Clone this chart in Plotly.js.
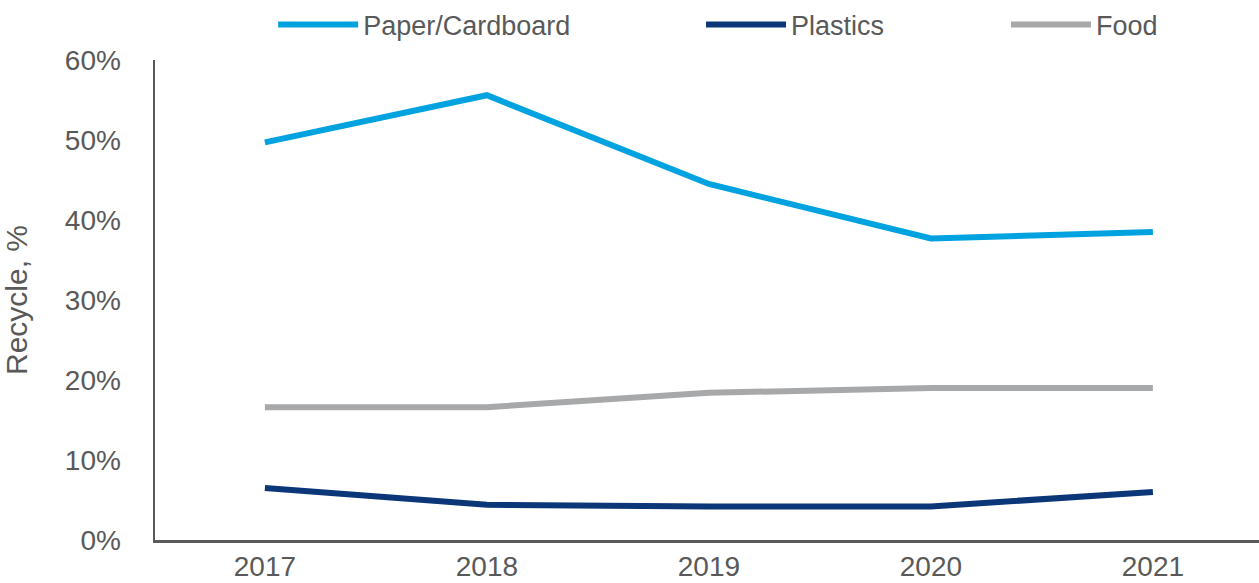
<!DOCTYPE html>
<html><head><meta charset="utf-8">
<script src="https://cdn.plot.ly/plotly-3.0.1.min.js"></script>
<style>html,body{margin:0;padding:0;background:#fff}</style>
</head><body>
<div id="chart" style="width:1259px;height:583px"></div>
<script>
const years = ["2017", "2018", "2019", "2020", "2021"];
const paperCardboard = [49.7, 55.6, 44.5, 37.7, 38.5];
const plastics = [6.5, 4.4, 4.2, 4.2, 6.0];
const food = [16.6, 16.6, 18.4, 19.0, 19.0];
const yTicks = [0, 10, 20, 30, 40, 50, 60];
const yTickText = yTicks.map(v => v + "%");

const font = "Arial, 'Liberation Sans', sans-serif";
const grey = "#595959";
const mk = (name, y, color, lg) => ({
  x: years, y: y, name: name, type: "scatter", mode: "lines", legend: lg,
  line: {color: color, width: 6}, hoverinfo: "skip"
});
const data = [
  mk("Paper/Cardboard", paperCardboard, "#00A3E0", "legend"),
  mk("Plastics", plastics, "#0B3677", "legend2"),
  mk("Food", food, "#A7A8AA", "legend3")
];
const lg = (x) => ({orientation: "h", x: x, xanchor: "left", y: 1.073, yanchor: "middle",
  font: {size: 27, color: grey}, itemwidth: 80, bgcolor: "rgba(0,0,0,0)",
  itemclick: false, itemdoubleclick: false});
const layout = {
  width: 1259, height: 583,
  margin: {l: 155, r: 0, t: 60, b: 43},
  paper_bgcolor: "#fff", plot_bgcolor: "#fff",
  font: {family: font, color: grey, size: 26},
  showlegend: true,
  legend: lg(0.107),
  legend2: lg(0.4946),
  legend3: lg(0.7708),
  xaxis: {type: "category", range: [-0.495, 4.478], showgrid: false, zeroline: false,
    showline: true, linecolor: grey, linewidth: 2.5, ticks: "",
    tickfont: {size: 28, color: grey}, ticklabelstandoff: 0, fixedrange: true},
  yaxis: {range: [0, 60], tickvals: yTicks, ticktext: yTickText, showgrid: false, zeroline: false,
    showline: true, linecolor: grey, linewidth: 2.5, ticks: "",
    tickfont: {size: 28, color: grey}, ticklabelstandoff: 26,
    title: {text: "Recycle, %", font: {size: 30, color: grey}, standoff: 30}, fixedrange: true}
};
Plotly.newPlot("chart", data, layout, {displayModeBar: false, staticPlot: true});
</script>
</body></html>
